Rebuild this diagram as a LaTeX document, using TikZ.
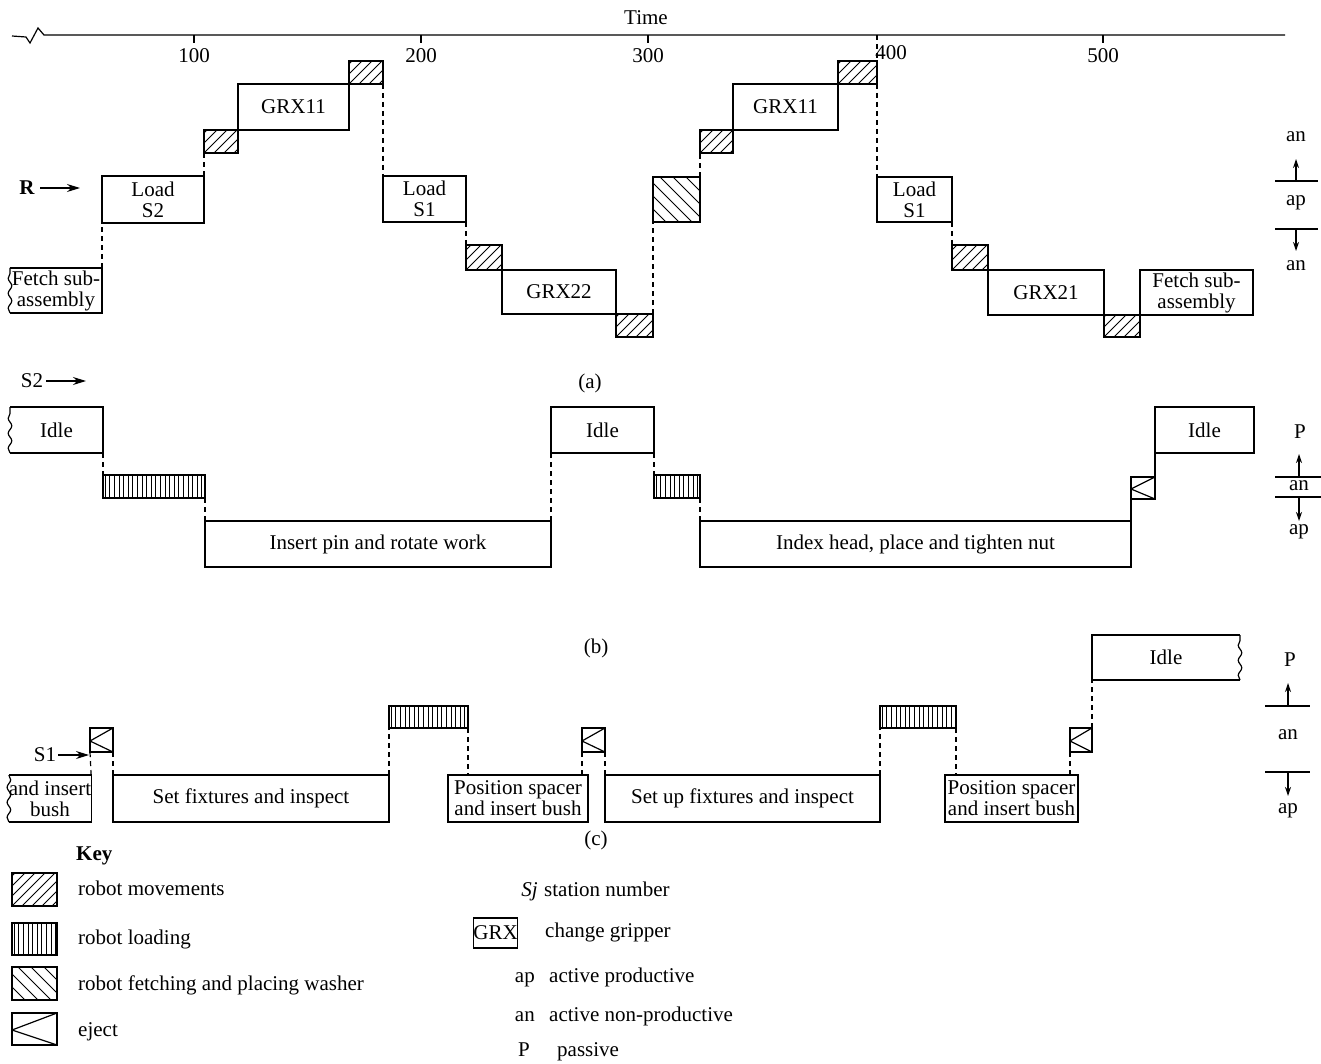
\documentclass[tikz,border=0pt]{standalone}
\usepackage{fontspec}
\setmainfont{Liberation Serif}
\usetikzlibrary{arrows.meta,decorations.pathmorphing}
\newcommand\tb[7][]{%
  \node[tbx,#1,minimum width={(#5-#3)*1pt},minimum height={(#6-#4)*1pt}] (#2) at ({(#3+#5)/2},{(#4+#6)/2}) {#7};}
\tikzset{
  lw/.style={line width=1.2pt},
  hw1/.style={line width=1pt},
  tbx/.style={draw,lw,inner sep=0pt,outer sep=0pt,align=center,font=\fontsize{21}{21}\selectfont},
  nobox/.style={draw=none},
  hm/.style={path picture={\foreach \i in {-60,-50,...,60}
      \draw[hw1] ([xshift=\i pt]path picture bounding box.south west) -- ++(80pt,80pt);}},
  hl/.style={path picture={\foreach \i in {2.3,6.9,...,110}
      \draw[hw1] ([xshift=\i pt]path picture bounding box.south west) -- ([xshift=\i pt]path picture bounding box.north west);}},
  hw/.style={path picture={\foreach \i in {0,13,...,130}
      \draw[hw1] ([xshift=\i pt]path picture bounding box.south west) -- ++(-80pt,80pt);}},
  ej/.style={path picture={\draw[lw] (path picture bounding box.north east) -- ([yshift=-1pt]path picture bounding box.west) -- (path picture bounding box.south east);}},
  dl/.style={lw,dash pattern=on 5pt off 4pt},
  sl/.style={lw},
  wav/.style={lw,decorate,decoration={snake,amplitude=1.8pt,segment length=15pt}},
  lab/.style={inner sep=0pt,font=\fontsize{21}{21}\selectfont},
  kl/.style={lab,anchor=base west},
  kr/.style={lab,anchor=base east},
  arr/.style={lw,-{Stealth[length=13pt,width=8pt]}},
  arrs/.style={lw,-{Stealth[length=9pt,width=6pt]}},
}
\begin{document}
\begin{tikzpicture}[x=1pt,y=-1pt]
\useasboundingbox (0,0) rectangle (1321,1064);
% ---------------- time axis
\coordinate (ax0) at (12,36);
\coordinate (ax1) at (1285,35);
\draw[lw] (ax0) -- (26,37) -- (30,43) -- (38,28) -- (44,35) -- (ax1);
\node[lab] (time) at (646,18) {Time};
\foreach \x/\t/\n in {194/100/t1,421/200/t2,648/300/t3,1103/500/t5}{
  \coordinate (\n a) at (\x,35); \coordinate (\n b) at (\x,43);
  \draw[lw] (\n a) -- (\n b);
  \node[lab] (\n l) at (\x,56) {\t};
}
\node[lab] (t4l) at (891,53) {400};
% ---------------- (a) robot
\node[lab] (Rl) at (27,188) {\textbf{R}};
\coordinate (Ra) at (40,188); \coordinate (Rb) at (80,188);
\draw[arr] (Ra) -- (Rb);
\tb[nobox]{fa1}{10}{268}{102}{313}{Fetch sub-\\assembly}
\draw[lw] (fa1.south west) -- (fa1.south east) -- (fa1.north east) -- (fa1.north west);
\draw[wav] (fa1.south west) -- (fa1.north west);
\tb{ls2}{102}{176}{204}{223}{Load\\S2}
\tb[hm]{h1}{204}{130}{238}{153}{}
\tb{g11a}{238}{84}{349}{130}{GRX11}
\tb[hm]{h2}{349}{61}{383}{84}{}
\tb{ls1a}{383}{176}{466}{222}{Load\\S1}
\tb[hm]{h3}{466}{245}{502}{270}{}
\tb{g22}{502}{270}{616}{314}{GRX22}
\tb[hm]{h4}{616}{314}{653}{337}{}
\tb[hw]{w1}{653}{177}{700}{222}{}
\tb[hm]{h5}{700}{130}{733}{153}{}
\tb{g11b}{733}{84}{838}{130}{GRX11}
\tb[hm]{h6}{838}{61}{877}{84}{}
\tb{ls1b}{877}{177}{952}{222}{Load\\S1}
\tb[hm]{h7}{952}{245}{988}{270}{}
\tb{g21}{988}{270}{1104}{315}{GRX21}
\tb[hm]{h8}{1104}{315}{1140}{337}{}
\tb{fa2}{1140}{270}{1253}{315}{Fetch sub-\\assembly}
\draw[dl] (fa1.north east) -- (ls2.south west);
\draw[dl] (ls2.north east) -- (h1.south west);
\draw[dl] (h2.south east) -- (ls1a.north west);
\draw[dl] (ls1a.south east) -- (h3.north west);
\draw[dl] (h4.north east) -- (w1.south west);
\draw[dl] (w1.north east) -- (h5.south west);
\draw[dl] (h6.north east |- ax1) -- (h6.north east);
\draw[dl] (h6.south east) -- (ls1b.north west);
\draw[dl] (ls1b.south east) -- (h7.north west);
\node[lab] (pa) at (590,383) {(a)};
% right legend (a)
\node[lab] (ra1) at (1296,137) {an};
\coordinate (ral) at (1275,181); \coordinate (rar) at (1318,181);
\coordinate (ram) at (1296,181); \coordinate (rau) at (1296,159);
\draw[lw] (ral) -- (rar); \draw[arrs] (ram) -- (rau);
\node[lab] (ra2) at (1296,203) {ap};
\coordinate (rbl) at (1275,229); \coordinate (rbr) at (1318,229);
\coordinate (rbm) at (1296,229); \coordinate (rbd) at (1296,251);
\draw[lw] (rbl) -- (rbr); \draw[arrs] (rbm) -- (rbd);
\node[lab] (ra3) at (1296,266) {an};
% ---------------- (b) S2
\node[lab] (S2l) at (32,381) {S2};
\coordinate (S2a) at (46,381); \coordinate (S2b) at (86,381);
\draw[arr] (S2a) -- (S2b);
\tb[nobox]{i1}{10}{407}{103}{453}{Idle}
\draw[lw] (i1.south west) -- (i1.south east) -- (i1.north east) -- (i1.north west);
\draw[wav] (i1.south west) -- (i1.north west);
\tb[hl]{l1}{103}{475}{205}{498}{}
\tb{ip}{205}{521}{551}{567}{Insert pin and rotate work}
\tb{i2}{551}{407}{654}{453}{Idle}
\tb[hl]{l2}{654}{475}{700}{498}{}
\tb{ih}{700}{521}{1131}{567}{Index head, place and tighten nut}
\tb[ej]{e1}{1131}{477}{1155}{499}{}
\tb{i3}{1155}{407}{1254}{453}{Idle}
\draw[dl] (i1.south east) -- (l1.north west);
\draw[dl] (l1.south east) -- (ip.north west);
\draw[dl] (ip.north east) -- (i2.south west);
\draw[dl] (i2.south east) -- (l2.north west);
\draw[dl] (l2.south east) -- (ih.north west);
\draw[sl] (ih.north east) -- (e1.south west);
\draw[sl] (e1.north east) -- (i3.south west);
\node[lab] (pb) at (596,648) {(b)};
% right legend (b)
\node[lab] (rb1) at (1300,432) {P};
\coordinate (rcl) at (1275,477); \coordinate (rcr) at (1321,477);
\coordinate (rcm) at (1299,477); \coordinate (rcu) at (1299,454);
\draw[lw] (rcl) -- (rcr); \draw[arrs] (rcm) -- (rcu);
\node[lab] (rb2) at (1299,486) {an};
\coordinate (rdl) at (1275,497); \coordinate (rdr) at (1321,497);
\coordinate (rdm) at (1299,497); \coordinate (rdd) at (1299,521);
\draw[lw] (rdl) -- (rdr); \draw[arrs] (rdm) -- (rdd);
\node[lab] (rb3) at (1299,532) {ap};
% ---------------- (c) S1
\node[lab] (S1l) at (45,755) {S1};
\coordinate (S1a) at (58,755); \coordinate (S1b) at (89,755);
\draw[arr] (S1a) -- (S1b);
\tb[nobox]{c0}{10}{775}{90}{822}{and insert\\bush}
\draw[lw] (c0.south west) -- (c0.south east) -- (c0.north east) -- (c0.north west);
\draw[wav] (c0.south west) -- (c0.north west);
\tb[ej]{e2}{90}{728}{113}{752}{}
\tb{sf}{113}{775}{389}{822}{Set fixtures and inspect}
\tb[hl]{l3}{389}{706}{468}{728}{}
\tb{ps1}{448}{775}{588}{822}{Position spacer\\and insert bush}
\tb[ej]{e3}{582}{728}{605}{752}{}
\tb{su}{605}{775}{880}{822}{Set up fixtures and inspect}
\tb[hl]{l4}{880}{706}{956}{728}{}
\tb{ps2}{945}{775}{1078}{822}{Position spacer\\and insert bush}
\tb[ej]{e4}{1070}{728}{1092}{752}{}
\tb[nobox]{i4}{1092}{635}{1240}{680}{Idle}
\draw[lw] (i4.north east) -- (i4.north west) -- (i4.south west) -- (i4.south east);
\draw[wav] (i4.south east) -- (i4.north east);
\draw[dl] (c0.north east) -- (e2.south west);
\draw[dl] (e2.south east) -- (sf.north west);
\draw[dl] (sf.north east) -- (l3.south west);
\draw[dl] (l3.south east) -- (l3.south east |- ps1.north);
\draw[dl] (e3.south west |- ps1.north) -- (e3.south west);
\draw[dl] (e3.south east) -- (su.north west);
\draw[dl] (su.north east) -- (l4.south west);
\draw[dl] (l4.south east) -- (l4.south east |- ps2.north);
\draw[dl] (e4.south west |- ps2.north) -- (e4.south west);
\draw[dl] (e4.north east) -- (i4.south west);
\node[lab] (pc) at (596,840) {(c)};
% right legend (c)
\node[lab] (rc1) at (1290,660) {P};
\coordinate (rel) at (1265,706); \coordinate (rer) at (1310,706);
\coordinate (rem) at (1288,706); \coordinate (reu) at (1288,683);
\draw[lw] (rel) -- (rer); \draw[arrs] (rem) -- (reu);
\node[lab] (rc2) at (1288,735) {an};
\coordinate (rfl) at (1265,772); \coordinate (rfr) at (1310,772);
\coordinate (rfm) at (1288,772); \coordinate (rfd) at (1288,796);
\draw[lw] (rfl) -- (rfr); \draw[arrs] (rfm) -- (rfd);
\node[lab] (rc3) at (1288,811) {ap};
% ---------------- key
\node[kl] (key) at (76,860) {\textbf{Key}};
\tb[hm]{k1}{12}{873}{57}{906}{}
\tb[hl]{k2}{12}{923}{57}{955}{}
\tb[hw]{k3}{12}{967}{57}{1000}{}
\tb[ej]{k4}{12}{1013}{57}{1045}{}
\node[kl] (k1t) at (78,895) {robot movements};
\node[kl] (k2t) at (78,944) {robot loading};
\node[kl] (k3t) at (78,990) {robot fetching and placing washer};
\node[kl] (k4t) at (78,1036) {eject};
\node[kr] (k5a) at (538,896) {\textit{Sj}};
\node[kl] (k5t) at (544,896) {station number};
\tb{k6}{475}{918}{516}{948}{GRX}
\node[kl] (k6t) at (545,937) {change gripper};
\node[kr] (k7a) at (535,982) {ap};
\node[kl] (k7t) at (549,982) {active productive};
\node[kr] (k8a) at (535,1021) {an};
\node[kl] (k8t) at (549,1021) {active non-productive};
\node[kr] (k9a) at (530,1056) {P};
\node[kl] (k9t) at (557,1056) {passive};
\end{tikzpicture}
\end{document}
